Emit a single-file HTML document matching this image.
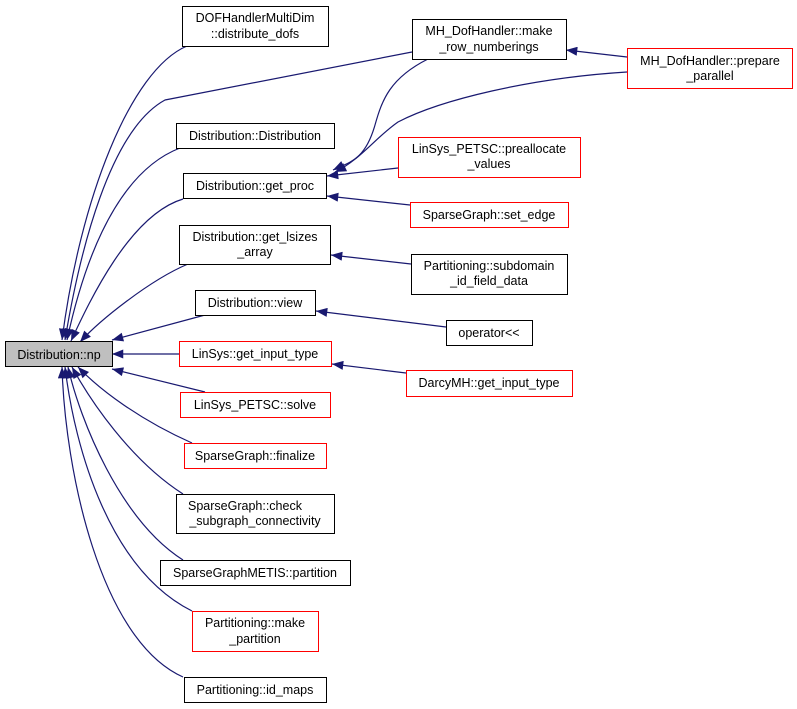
<!DOCTYPE html>
<html><head><meta charset="utf-8"><style>
body{margin:0;background:#fff;}
svg{display:block;}
text{font-family:"Liberation Sans",Helvetica,sans-serif;font-size:12.5px;fill:#000;}
</style></head><body>
<svg width="797" height="709" viewBox="0 0 797 709" xmlns="http://www.w3.org/2000/svg">
<defs>
<marker id="a" viewBox="0 0 10 8" refX="10" refY="4" markerWidth="12" markerHeight="9" markerUnits="userSpaceOnUse" orient="auto">
<path d="M0,0 L10,4 L0,8 Z" fill="#191970"/>
</marker>
</defs>
<g fill="none" stroke="#191970" stroke-width="1.2" marker-end="url(#a)">
<path d="M187,46 C130,70 80,200 62,340"/>
<path d="M412,52 L165,100 C110,130 80,250 65,340"/>
<path d="M180,148 C110,175 80,280 67,340"/>
<path d="M183,199 C130,215 90,300 71,341"/>
<path d="M188,264 C150,280 100,320 80,342"/>
<path d="M205,315 L112,340"/>
<path d="M179,354 L112,354"/>
<path d="M205,392 L112,369"/>
<path d="M192,443 C140,420 100,390 78,367"/>
<path d="M183,494 C130,460 90,400 72,367"/>
<path d="M183,560 C120,520 80,420 68,367"/>
<path d="M192,611 C110,570 75,450 65,367"/>
<path d="M183,677 C100,640 65,470 62,367"/>
<path d="M428,59 C390,78 382,100 375,125 C365,160 350,162 333,170"/>
<path d="M627,72 C530,78 440,100 398,122 C375,138 360,160 335,172"/>
<path d="M398,168 L327,176"/>
<path d="M410,205 L327,196"/>
<path d="M627,57 L566,50"/>
<path d="M411,264 L331,255"/>
<path d="M446,327 L316,311"/>
<path d="M406,373 L332,364"/>
</g>
<g stroke-width="1" fill="#fff">
<rect x="5.5" y="341.5" width="107" height="25" fill="#bfbfbf" stroke="#000"/>
<rect x="182.5" y="6.5" width="146" height="40" stroke="#000"/>
<rect x="176.5" y="123.5" width="158" height="25" stroke="#000"/>
<rect x="183.5" y="173.5" width="143" height="25" stroke="#000"/>
<rect x="179.5" y="225.5" width="151" height="39" stroke="#000"/>
<rect x="195.5" y="290.5" width="120" height="25" stroke="#000"/>
<rect x="179.5" y="341.5" width="152" height="25" stroke="#f00"/>
<rect x="180.5" y="392.5" width="150" height="25" stroke="#f00"/>
<rect x="184.5" y="443.5" width="142" height="25" stroke="#f00"/>
<rect x="176.5" y="494.5" width="158" height="39" stroke="#000"/>
<rect x="160.5" y="560.5" width="190" height="25" stroke="#000"/>
<rect x="192.5" y="611.5" width="126" height="40" stroke="#f00"/>
<rect x="184.5" y="677.5" width="142" height="25" stroke="#000"/>
<rect x="412.5" y="19.5" width="154" height="40" stroke="#000"/>
<rect x="627.5" y="48.5" width="165" height="40" stroke="#f00"/>
<rect x="398.5" y="137.5" width="182" height="40" stroke="#f00"/>
<rect x="410.5" y="202.5" width="158" height="25" stroke="#f00"/>
<rect x="411.5" y="254.5" width="156" height="40" stroke="#000"/>
<rect x="446.5" y="320.5" width="86" height="25" stroke="#000"/>
<rect x="406.5" y="370.5" width="166" height="26" stroke="#f00"/>
</g>
<g text-anchor="middle">
<text x="59" y="359">Distribution::np</text>
<text x="255" y="22">DOFHandlerMultiDim</text>
<text x="255" y="38">::distribute_dofs</text>
<text x="255" y="140">Distribution::Distribution</text>
<text x="255" y="190">Distribution::get_proc</text>
<text x="255" y="241">Distribution::get_lsizes</text>
<text x="255" y="256">_array</text>
<text x="255" y="307">Distribution::view</text>
<text x="255" y="358">LinSys::get_input_type</text>
<text x="255" y="409">LinSys_PETSC::solve</text>
<text x="255" y="460">SparseGraph::finalize</text>
<text x="245" y="510">SparseGraph::check</text>
<text x="255" y="525">_subgraph_connectivity</text>
<text x="255" y="577">SparseGraphMETIS::partition</text>
<text x="255" y="627">Partitioning::make</text>
<text x="255" y="643">_partition</text>
<text x="255" y="694">Partitioning::id_maps</text>
<text x="489" y="35">MH_DofHandler::make</text>
<text x="489" y="51">_row_numberings</text>
<text x="710" y="65">MH_DofHandler::prepare</text>
<text x="710" y="80">_parallel</text>
<text x="489" y="153">LinSys_PETSC::preallocate</text>
<text x="489" y="168">_values</text>
<text x="489" y="219">SparseGraph::set_edge</text>
<text x="489" y="270">Partitioning::subdomain</text>
<text x="489" y="285">_id_field_data</text>
<text x="489" y="337">operator&lt;&lt;</text>
<text x="489" y="387">DarcyMH::get_input_type</text>
</g>
</svg>
</body></html>
